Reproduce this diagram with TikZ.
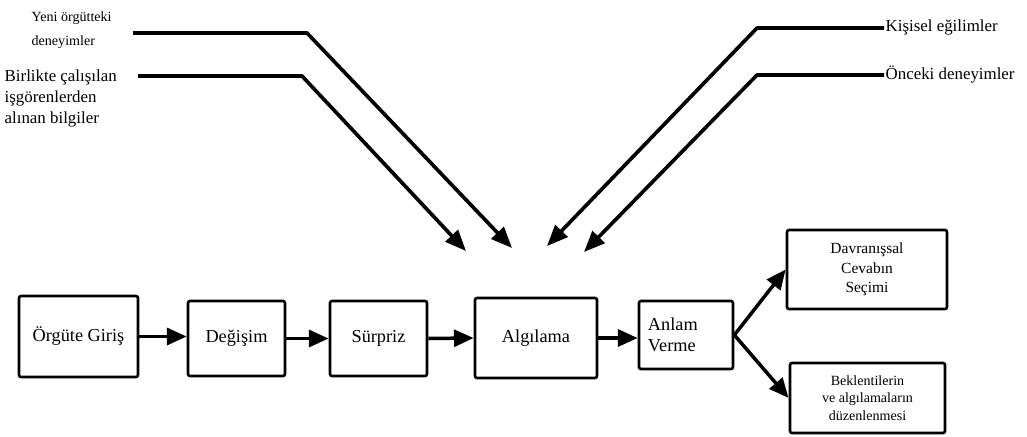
\documentclass[tikz,border=0pt]{standalone}
\usepackage{fontspec}
\setmainfont{Liberation Serif}
\usetikzlibrary{arrows.meta,calc}

\tikzset{
  box/.style={draw, line width=1.9pt, rounded corners=1.5pt, align=center,
    font=\fontsize{13}{15}\selectfont},
  flow/.style={line width=2.5pt, -{Triangle[length=14pt,width=12pt]}},
  feed/.style={line width=2.6pt, line join=round, -{Triangle[length=15pt,width=12pt]}},
  lbl/.style={align=left, inner sep=1pt, font=\fontsize{12}{15}\selectfont},
}

\begin{document}
\begin{tikzpicture}[x=0.025cm, y=-0.025cm]
    \useasboundingbox (0,0) rectangle (1027,436);

    % Main chain of boxes
    \node[box, minimum width=2.975cm, minimum height=2.025cm] (entry) at (78.5,336.5) {Örgüte Giriş};
    \node[box, minimum width=2.425cm, minimum height=1.875cm] (chg) at (236.5,338.5) {Değişim};
    \node[box, minimum width=2.425cm, minimum height=1.875cm] (surp) at (378.5,338.5) {Sürpriz};
    \node[box, minimum width=3.05cm, minimum height=2cm] (perc) at (536,338) {Algılama};
    \node[box, minimum width=2.35cm, minimum height=1.7cm, align=left, text width=1.9cm] (mean) at (686,335) {Anlam\\Verme};

    % Two outcomes
    \node[box, minimum width=4cm, minimum height=1.975cm, font=\fontsize{11}{14}\selectfont] (beh) at (867,269.5)
        {Davranışsal\\Cevabın\\Seçimi};
    \node[box, minimum width=3.875cm, minimum height=1.75cm, font=\fontsize{10}{12.5}\selectfont] (exp) at (867.5,398)
        {Beklentilerin\\ve algılamaların\\düzenlenmesi};

    % Arrows along the chain
    \draw[flow] (entry.east) -- (entry.east -| chg.west);
    \draw[flow] (chg.east) -- (surp.west);
    \draw[flow] (surp.east) -- (perc.west);
    \draw[flow] (perc.east) -- (perc.east -| mean.west);
    \draw[flow] (mean.east) -- (beh.west);
    \draw[flow] (mean.east) -- (exp.west);

    % Inputs to perception, left side
    \node[lbl, anchor=west, font=\fontsize{10}{17}\selectfont] (yeni) at (30,30) {Yeni örgütteki\\deneyimler};
    \node[lbl, anchor=north west] (bir) at (3,68) {Birlikte çalışılan\\işgörenlerden\\alınan bilgiler};
    \coordinate (yeniB) at (307,33);
    \coordinate (yeniT) at (512,248);
    \coordinate (birB) at (302,76);
    \coordinate (birT) at (466,251);
    \draw[feed, shorten <=14pt] (yeni.east |- yeniB) -- (yeniB) -- (yeniT);
    \draw[feed, shorten <=14pt] (bir.east |- birB) -- (birB) -- (birT);

    % Inputs to perception, right side
    \node[lbl, anchor=west] (kis) at (884,27) {Kişisel eğilimler};
    \node[lbl, anchor=west] (onc) at (884,74) {Önceki deneyimler};
    \coordinate (kisB) at (757,28);
    \coordinate (kisT) at (547,246);
    \coordinate (oncB) at (757,75);
    \coordinate (oncT) at (584,252);
    \draw[feed] (kis.west |- kisB) -- (kisB) -- (kisT);
    \draw[feed] (onc.west |- oncB) -- (oncB) -- (oncT);
\end{tikzpicture}
\end{document}
